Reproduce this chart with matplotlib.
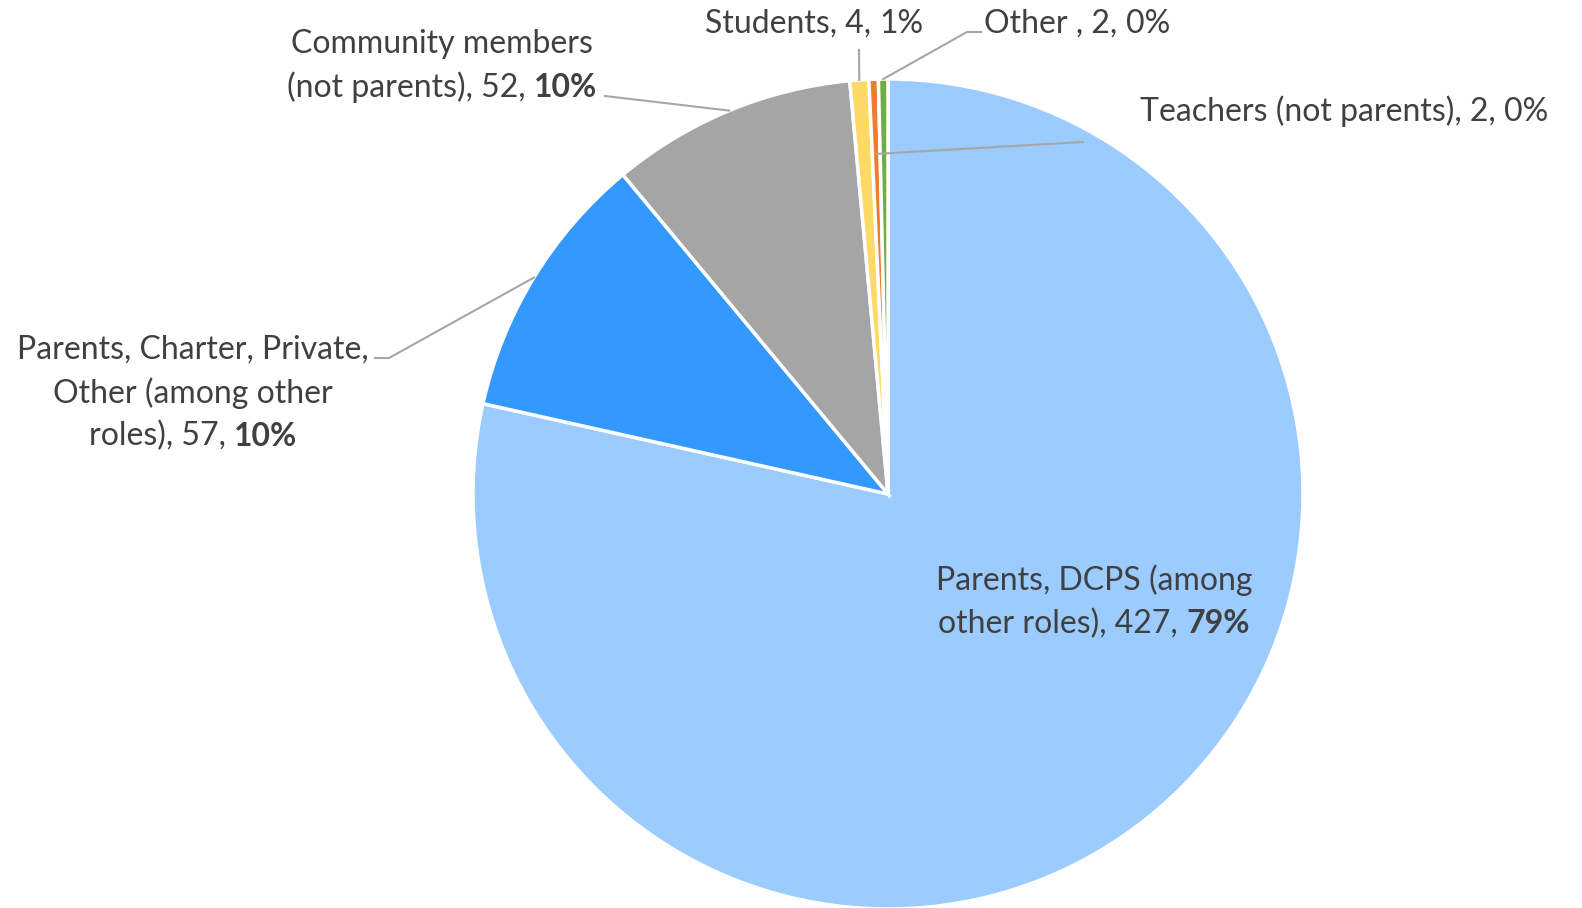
import matplotlib
matplotlib.use('Agg')
import matplotlib.pyplot as plt
import numpy as np
from matplotlib.offsetbox import TextArea, HPacker, VPacker, AnnotationBbox

plt.rcParams['font.family'] = ['Lato', 'DejaVu Sans']

# data
labels = ['Parents, DCPS (among\nother roles)',
          'Parents, Charter, Private,\nOther (among other\nroles)',
          'Community members\n(not parents)',
          'Students',
          'Teachers (not parents)',
          'Other ']
counts = [427, 57, 52, 4, 2, 2]
percents = [79, 10, 10, 1, 0, 0]
bold_pct = [True, True, True, False, False, False]
colors = ['#9BCBFF', '#3399FF', '#A5A5A5', '#FFD966', '#ED7D31', '#70AD47']

W, H = 1582, 908
# label centres in pixels (from top left)
label_pos = [(1094, 602), (193, 393), (442, 66), (814, 24), (1344, 111), (1077, 24)]
# leader line points on the text side, then radius fraction on the wedge side
leader_pts = [None, [(375, 358), (389, 358)], [(605, 96)], [(859, 50)],
              [(1083, 142)], [(981, 32), (967, 32)]]
leader_r = [None, 1.0, 1.0, 1.0, 0.82, 1.0]

cx, cy, R = 888, H - 494, 415
txt_color = '#404040'

fig = plt.figure(figsize=(W / 100, H / 100), dpi=100)
ax = fig.add_axes([0, 0, 1, 1])
wedges, _ = ax.pie(counts, colors=colors, startangle=90, counterclock=False,
                   center=(cx, cy), radius=R,
                   wedgeprops=dict(edgecolor='white', linewidth=2.5))
ax.set_xlim(0, W)
ax.set_ylim(0, H)
ax.set_aspect('equal')
ax.axis('off')

fs = 23
tp = dict(fontsize=fs, color=txt_color)
tpb = dict(fontsize=fs, color=txt_color, fontweight='bold')

for i, w in enumerate(wedges):
    lines = labels[i].split('\n')
    rows = [TextArea(l, textprops=tp) for l in lines[:-1]]
    last = HPacker(children=[TextArea(lines[-1] + ', %d, ' % counts[i], textprops=tp),
                             TextArea('%d%%' % percents[i], textprops=tpb if bold_pct[i] else tp)],
                   pad=0, sep=0, align='baseline')
    rows.append(last)
    box = VPacker(children=rows, align='center', pad=0, sep=9)
    x, y = label_pos[i]
    ab = AnnotationBbox(box, (x, H - y), xycoords='data', frameon=False,
                        box_alignment=(0.5, 0.5), pad=0)
    ax.add_artist(ab)

    if leader_pts[i] is not None:
        mid = np.deg2rad((w.theta1 + w.theta2) / 2)
        px = cx + R * leader_r[i] * np.cos(mid)
        py = cy + R * leader_r[i] * np.sin(mid)
        xs = [p[0] for p in leader_pts[i]] + [px]
        ys = [H - p[1] for p in leader_pts[i]] + [py]
        ax.plot(xs, ys, color='#A6A6A6', linewidth=1.5)

fig.savefig('out.png', dpi=100)
